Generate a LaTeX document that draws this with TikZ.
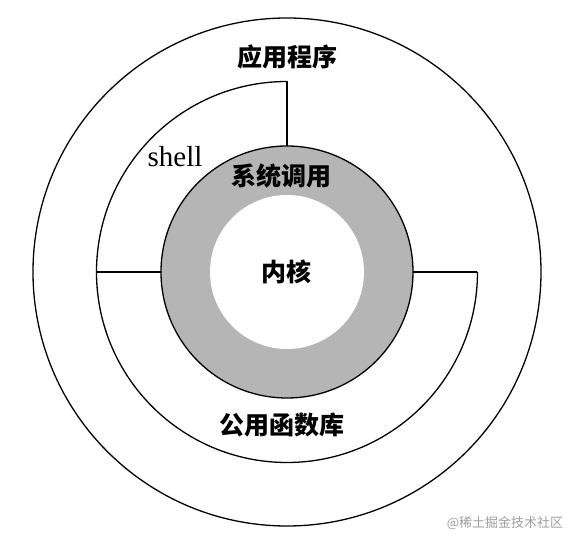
\documentclass[tikz,border=0pt]{standalone}
\usepackage{fontspec}
\setmainfont{Liberation Serif}
\newfontfamily\cjk{Noto Sans CJK SC}
\usepackage{tikz}
\usetikzlibrary{positioning}

\begin{document}
\begin{tikzpicture}[x=1pt, y=1pt,
    ring/.style={draw, line width=1.3pt},
    disc/.style={circle, inner sep=0pt, outer sep=0pt},
    cjklabel/.style={font=\cjk\bfseries\fontsize{25}{25}\selectfont},
    mark label/.style={font=\cjk\fontsize{13}{13}\selectfont, text=black!38}]
    \useasboundingbox (-287,-273) rectangle (287,272);
    % rings, from the outside in
    \node[disc, ring, minimum size=508pt] (apps) at (0,0) {};
    \node[disc, ring, fill=black!29, minimum size=252pt] (syscall) at (0,0) {};
    \node[disc, fill=white, minimum size=154pt] (kernel) at (0,0) {};
    % shell and library ring
    \coordinate (shellTop)  at (90:190.5);
    \coordinate (shellLeft) at (180:190.5);
    \coordinate (libRight)  at (0:190.5);
    \draw[ring] (shellTop) arc[start angle=90, end angle=360, radius=190.5];
    \draw[ring] (shellTop) -- (syscall.north);
    \draw[ring] (shellLeft) -- (syscall.west);
    \draw[ring] (libRight) -- (syscall.east);
    % labels
    \node[cjklabel] (appsText) at (1,215) {应用程序};
    \node[font=\fontsize{29}{29}\selectfont, inner sep=0pt] (shellText) at (-112,115) {shell};
    \node[cjklabel] (syscallText) at (-5,96) {系统调用};
    \node[cjklabel] (kernelText) at (kernel) {内核};
    \node[cjklabel] (libText) at (-5,-153) {公用函数库};
    \node[mark label] (markText) at (218,-251) {@稀土掘金技术社区};
\end{tikzpicture}
\end{document}
